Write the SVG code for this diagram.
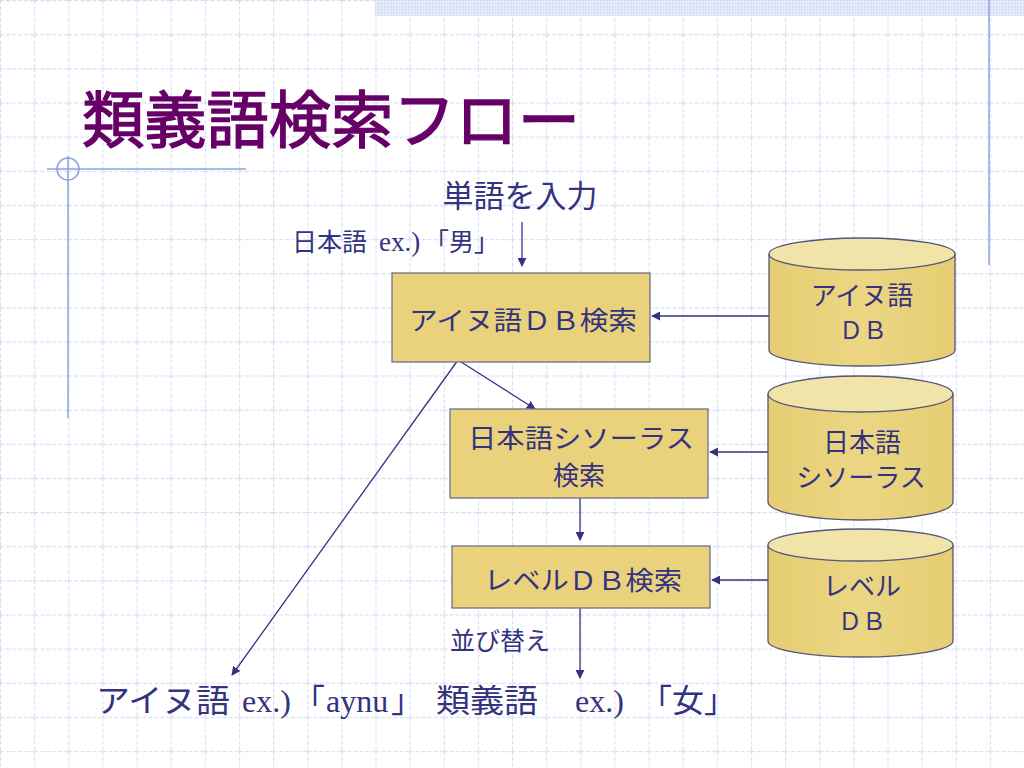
<svg xmlns="http://www.w3.org/2000/svg" width="1024" height="768" viewBox="0 0 1024 768">
<defs>
<pattern id="grid" patternUnits="userSpaceOnUse" width="34.133" height="34.133">
<path d="M0.5 0V34.133M0 0.5H34.133" stroke="#d8ddf5" stroke-width="1.2" stroke-dasharray="4 2" fill="none"/>
</pattern>
<pattern id="dots" patternUnits="userSpaceOnUse" width="3" height="3">
<rect width="3" height="3" fill="#e6ecfa"/>
<rect width="1.5" height="1.5" fill="#c9d5f3"/>
</pattern>
<marker id="arr" viewBox="0 0 10 10" refX="9" refY="5" markerWidth="9" markerHeight="9" markerUnits="userSpaceOnUse" orient="auto">
<path d="M0 0L10 5L0 10z" fill="#333380"/>
</marker>
<linearGradient id="side" x1="0" y1="0" x2="1" y2="0">
<stop offset="0" stop-color="#e6cd72"/>
<stop offset="0.5" stop-color="#ecd684"/>
<stop offset="1" stop-color="#e6cd72"/>
</linearGradient>
</defs>
<style>
.jp{font-family:"Noto Sans CJK JP","Noto Sans",sans-serif;fill:#333380}
.sf{font-family:"Liberation Serif",serif;fill:#333380}
.box{fill:#e9d27b;stroke:#70708a;stroke-width:1.3}
.cs{fill:url(#side);stroke:#55557a;stroke-width:1.3}
.ct{fill:#f1e4a8;stroke:#55557a;stroke-width:1.3}
.ln{stroke:#333380;stroke-width:1.3;fill:none;marker-end:url(#arr)}
.deco{stroke:#8fa2e2;stroke-width:1.5;fill:none}
</style>
<rect width="1024" height="768" fill="#ffffff"/>
<rect width="1024" height="768" fill="url(#grid)"/>
<rect x="375" y="0" width="649" height="16" fill="url(#dots)"/>
<g id="decoration">
<line class="deco" x1="989" y1="0" x2="989" y2="265"/>
<line class="deco" x1="68" y1="156" x2="68" y2="418"/>
<line class="deco" x1="47" y1="169" x2="246" y2="169"/>
<circle class="deco" cx="68" cy="169" r="11"/>
</g>
<text id="title" x="82" y="143" font-family="Noto Sans CJK JP, sans-serif" font-size="62" fill="#660066" stroke="#660066" stroke-width="1.4" textLength="498" lengthAdjust="spacingAndGlyphs">類義語検索フロー</text>
<g id="input">
<text class="jp" x="520" y="207" font-size="31" text-anchor="middle">単語を入力</text>
</g>
<g id="example-in">
<text class="jp" x="292" y="251" font-size="25">日本語</text>
<text class="sf" x="379" y="251" font-size="27">ex.)</text>
<text class="jp" x="424" y="251" font-size="25">「男」</text>
</g>
<g id="connectors">
<line class="ln" x1="522" y1="222" x2="522" y2="266"/>
<line class="ln" x1="769" y1="316" x2="652" y2="316"/>
<line class="ln" x1="458" y1="360" x2="535" y2="409"/>
<line class="ln" x1="458" y1="360" x2="232" y2="675"/>
<line class="ln" x1="768" y1="452" x2="710" y2="452"/>
<line class="ln" x1="580" y1="498" x2="580" y2="540"/>
<line class="ln" x1="768" y1="580" x2="712" y2="580"/>
<line class="ln" x1="580" y1="608" x2="580" y2="678"/>
</g>
<g id="box-ainu">
<rect class="box" x="392" y="273" width="258" height="89"/>
<text class="jp" x="409" y="330" font-size="26" textLength="228" lengthAdjust="spacingAndGlyphs">アイヌ語ＤＢ検索</text>
</g>
<g id="box-thesaurus">
<rect class="box" x="450" y="409" width="258" height="89"/>
<text class="jp" x="468" y="448" font-size="26" textLength="226" lengthAdjust="spacingAndGlyphs">日本語シソーラス</text>
<text class="jp" x="579" y="485" font-size="26" text-anchor="middle">検索</text>
</g>
<g id="box-level">
<rect class="box" x="452" y="546" width="258" height="62"/>
<text class="jp" x="484" y="590" font-size="26" textLength="198" lengthAdjust="spacingAndGlyphs">レベルＤＢ検索</text>
</g>
<g id="db-ainu">
<path class="cs" d="M769 254V350A93 16 0 0 0 955 350V254"/>
<ellipse class="ct" cx="862" cy="254" rx="93" ry="16"/>
<text class="jp" x="862" y="305" font-size="26" text-anchor="middle">アイヌ語</text>
<text class="jp" x="863" y="339" font-size="24" text-anchor="middle">ＤＢ</text>
</g>
<g id="db-thesaurus">
<path class="cs" d="M768 394V502A92.5 18 0 0 0 953 502V394"/>
<ellipse class="ct" cx="860.5" cy="394" rx="92.5" ry="18"/>
<text class="jp" x="862" y="452" font-size="26" text-anchor="middle">日本語</text>
<text class="jp" x="861" y="487" font-size="26" text-anchor="middle">シソーラス</text>
</g>
<g id="db-level">
<path class="cs" d="M768 545V641A92.5 16 0 0 0 953 641V545"/>
<ellipse class="ct" cx="860.5" cy="545" rx="92.5" ry="16"/>
<text class="jp" x="862" y="596" font-size="26" text-anchor="middle">レベル</text>
<text class="jp" x="862" y="630" font-size="24" text-anchor="middle">ＤＢ</text>
</g>
<g id="sort-label">
<text class="jp" x="450" y="650" font-size="25">並び替え</text>
</g>
<g id="result-ainu">
<text class="jp" x="96" y="712" font-size="32" textLength="134" lengthAdjust="spacingAndGlyphs">アイヌ語</text>
<text class="sf" x="242" y="712" font-size="32">ex.)</text>
<text class="jp" x="293" y="712" font-size="32">「</text>
<text class="sf" x="326" y="712" font-size="32">aynu</text>
<text class="jp" x="391" y="712" font-size="32">」</text>
</g>
<g id="result-synonym">
<text class="jp" x="436" y="712" font-size="32" textLength="102" lengthAdjust="spacingAndGlyphs">類義語</text>
<text class="sf" x="575" y="712" font-size="32">ex.)</text>
<text class="jp" x="640" y="712" font-size="32">「女」</text>
</g>
</svg>
